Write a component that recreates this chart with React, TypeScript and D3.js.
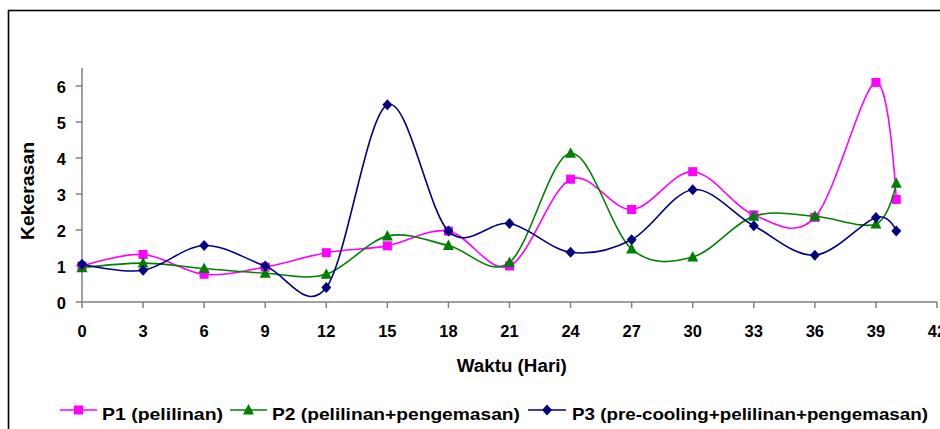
import React from "react";
import * as d3 from "d3";

// hari pengamatan
const days = [0, 3, 6, 9, 12, 15, 18, 21, 24, 27, 30, 33, 36, 39, 40];
const p1 = [1.0, 1.32, 0.77, 0.97, 1.37, 1.56, 1.97, 1.0, 3.41, 2.57, 3.62, 2.42, 2.35, 6.1, 2.85];
const p2 = [0.95, 1.08, 0.93, 0.8, 0.77, 1.83, 1.57, 1.1, 4.13, 1.47, 1.25, 2.38, 2.38, 2.17, 3.3];
const p3 = [1.05, 0.88, 1.57, 1.0, 0.4, 5.48, 1.97, 2.18, 1.38, 1.73, 3.12, 2.12, 1.3, 2.35, 1.97];
const xTicks = [0, 3, 6, 9, 12, 15, 18, 21, 24, 27, 30, 33, 36, 39, 42];
const yTicks = [0, 1, 2, 3, 4, 5, 6];

const seriesNames = [
  "P1 (pelilinan)",
  "P2 (pelilinan+pengemasan)",
  "P3 (pre-cooling+pelilinan+pengemasan)",
];

const W = 940;
const H = 429;
const m = { left: 82, right: 3, top: 68, bottom: 127 };
const font = "'Liberation Sans', Arial, sans-serif";

const App = () => {
  const x = d3.scaleLinear().domain([0, 42]).range([m.left, W - m.right]);
  const y = d3.scaleLinear().domain([0, 6.5]).range([H - m.bottom, m.top]);

  const line = d3
    .line<number>()
    .x((d, i) => x(days[i]))
    .y((d) => y(d))
    .curve(d3.curveCatmullRom.alpha(0));

  const series = [
    { name: seriesNames[0], values: p1, color: "#FF00FF", shape: "square" },
    { name: seriesNames[1], values: p2, color: "#008000", shape: "triangle" },
    { name: seriesNames[2], values: p3, color: "#000080", shape: "diamond" },
  ];

  const marker = (shape: string, cx: number, cy: number, color: string, key: any) => {
    if (shape === "square") {
      return <rect key={key} x={cx - 4.5} y={cy - 4.5} width={9} height={9} fill={color} />;
    }
    if (shape === "triangle") {
      return (
        <path key={key} d={`M${cx},${cy - 6}L${cx + 5.5},${cy + 4.5}L${cx - 5.5},${cy + 4.5}Z`} fill={color} />
      );
    }
    return (
      <path key={key} d={`M${cx},${cy - 5.5}L${cx + 5},${cy}L${cx},${cy + 5.5}L${cx - 5},${cy}Z`} fill={color} />
    );
  };

  // legend layout
  const legend = [
    { x1: 60, x2: 97, tx: 102, len: 121 },
    { x1: 230, x2: 267, tx: 272, len: 248 },
    { x1: 528, x2: 566, tx: 572, len: 356 },
  ];
  const ly = 410;

  const y0 = y(0);

  return (
    <svg
      width={W}
      height={H}
      style={{ position: "absolute", left: 0, top: 0, background: "#fff" }}
      fontFamily={font}
    >
      <rect x={8.5} y={10.5} width={W} height={H} fill="none" stroke="#000" strokeWidth={1.6} />

      {/* axes */}
      <line x1={m.left} x2={m.left} y1={y(6.5)} y2={y0} stroke="#808080" strokeWidth={1.5} />
      <line x1={m.left} x2={x(42)} y1={y0} y2={y0} stroke="#808080" strokeWidth={1.5} />
      {yTicks.map((t) => (
        <g key={"y" + t}>
          <line x1={m.left - 6} x2={m.left} y1={y(t)} y2={y(t)} stroke="#808080" strokeWidth={1.5} />
          <text x={66} y={y(t)} dy="0.42em" textAnchor="end" fontSize={16.5} fontWeight="bold">
            {t}
          </text>
        </g>
      ))}
      {xTicks.map((t) => (
        <g key={"x" + t}>
          <line x1={x(t)} x2={x(t)} y1={y0} y2={y0 + 6} stroke="#808080" strokeWidth={1.5} />
          <text x={x(t)} y={337} textAnchor="middle" fontSize={16.5} fontWeight="bold">
            {t}
          </text>
        </g>
      ))}

      <text x={511.7} y={372} textAnchor="middle" fontSize={18} fontWeight="bold" textLength={110} lengthAdjust="spacingAndGlyphs">
        Waktu (Hari)
      </text>
      <text
        transform={`translate(34,191) rotate(-90)`}
        textAnchor="middle"
        fontSize={19}
        fontWeight="bold"
        textLength={98}
        lengthAdjust="spacingAndGlyphs"
      >
        Kekerasan
      </text>

      {/* series */}
      {series.map((s) => (
        <g key={s.name}>
          <path d={line(s.values) || ""} fill="none" stroke={s.color} strokeWidth={1.6} />
          {s.values.map((v, i) => marker(s.shape, x(days[i]), y(v), s.color, i))}
        </g>
      ))}

      {/* legend */}
      {series.map((s, i) => (
        <g key={"l" + i}>
          <line x1={legend[i].x1} x2={legend[i].x2} y1={ly} y2={ly} stroke={s.color} strokeWidth={1.6} />
          {marker(s.shape, (legend[i].x1 + legend[i].x2) / 2, ly, s.color, "m")}
          <text
            x={legend[i].tx}
            y={420}
            fontSize={17}
            fontWeight="bold"
            textLength={legend[i].len}
            lengthAdjust="spacingAndGlyphs"
          >
            {s.name}
          </text>
        </g>
      ))}
    </svg>
  );
};

export default App;
